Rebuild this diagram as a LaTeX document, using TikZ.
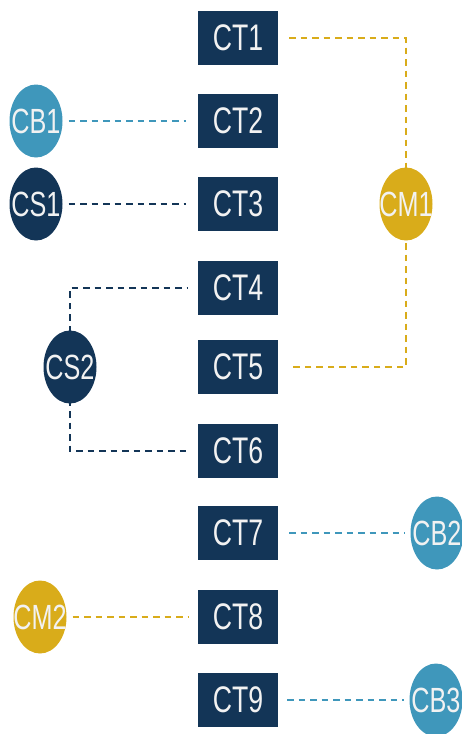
\documentclass[tikz,border=0pt]{standalone}
\usepackage{fontspec}
\setmainfont{Liberation Sans}[FakeStretch=0.72]
\usetikzlibrary{shapes.geometric}
\definecolor{navy}{HTML}{133557}
\definecolor{lblue}{HTML}{3F97BB}
\definecolor{gold}{HTML}{D9AC1A}
\definecolor{txt}{HTML}{F2F2F2}
\tikzset{
  ctbox/.style={rectangle, fill=navy, minimum width=80pt, minimum height=54pt, inner sep=0pt,
    text=txt, font=\fontsize{37}{37}\selectfont},
  circ/.style={ellipse, minimum width=53pt, minimum height=73pt, inner sep=0pt,
    text=txt, font=\fontsize{35}{35}\selectfont},
  dline/.style={line width=2.8pt, dash pattern=on 6.5pt off 5pt},
}
\newcommand{\zb}[1]{\makebox[0pt]{#1}}
\begin{document}
\begin{tikzpicture}[x=1pt,y=-1pt]
\useasboundingbox (0,0) rectangle (461,734);
\node[ctbox] (ct1) at (238,38) {CT1};
\node[ctbox] (ct2) at (238,121) {CT2};
\node[ctbox] (ct3) at (238,204) {CT3};
\node[ctbox] (ct4) at (238,288) {CT4};
\node[ctbox] (ct5) at (238,367) {CT5};
\node[ctbox] (ct6) at (238,451) {CT6};
\node[ctbox] (ct7) at (238,533) {CT7};
\node[ctbox] (ct8) at (238,617) {CT8};
\node[ctbox] (ct9) at (238,700) {CT9};
\node[circ, fill=lblue] (cb1) at (36,121) {\zb{CB1}};
\node[circ, fill=navy] (cs1) at (36,204) {\zb{CS1}};
\node[circ, fill=gold] (cm1) at (406,204) {\zb{CM1}};
\node[circ, fill=navy] (cs2) at (70,367) {\zb{CS2}};
\node[circ, fill=lblue] (cb2) at (437,533) {\zb{CB2}};
\node[circ, fill=gold] (cm2) at (40,617) {\zb{CM2}};
\node[circ, fill=lblue] (cb3) at (436,700) {\zb{CB3}};
\draw[dline, gold] ([xshift=11pt]ct1.east) -| ([yshift=-13pt]cm1.north);
\draw[dline, gold] ([yshift=9pt]cm1.south) |- ([xshift=11pt]ct5.east);
\draw[dline, lblue] ([xshift=6pt]cb1.east) -- ([xshift=-12pt]ct2.west);
\draw[dline, navy] ([xshift=6pt]cs1.east) -- ([xshift=-12pt]ct3.west);
\draw[dline, navy] ([yshift=-2pt]cs2.north) |- ([xshift=-11pt]ct4.west);
\draw[dline, navy] ([yshift=4pt]cs2.south) |- ([xshift=-12pt]ct6.west);
\draw[dline, lblue] ([xshift=11pt]ct7.east) -- ([xshift=-6pt]cb2.west);
\draw[dline, gold] ([xshift=6pt]cm2.east) -- ([xshift=-9pt]ct8.west);
\draw[dline, lblue] ([xshift=9pt]ct9.east) -- ([xshift=-5pt]cb3.west);
\end{tikzpicture}
\end{document}
